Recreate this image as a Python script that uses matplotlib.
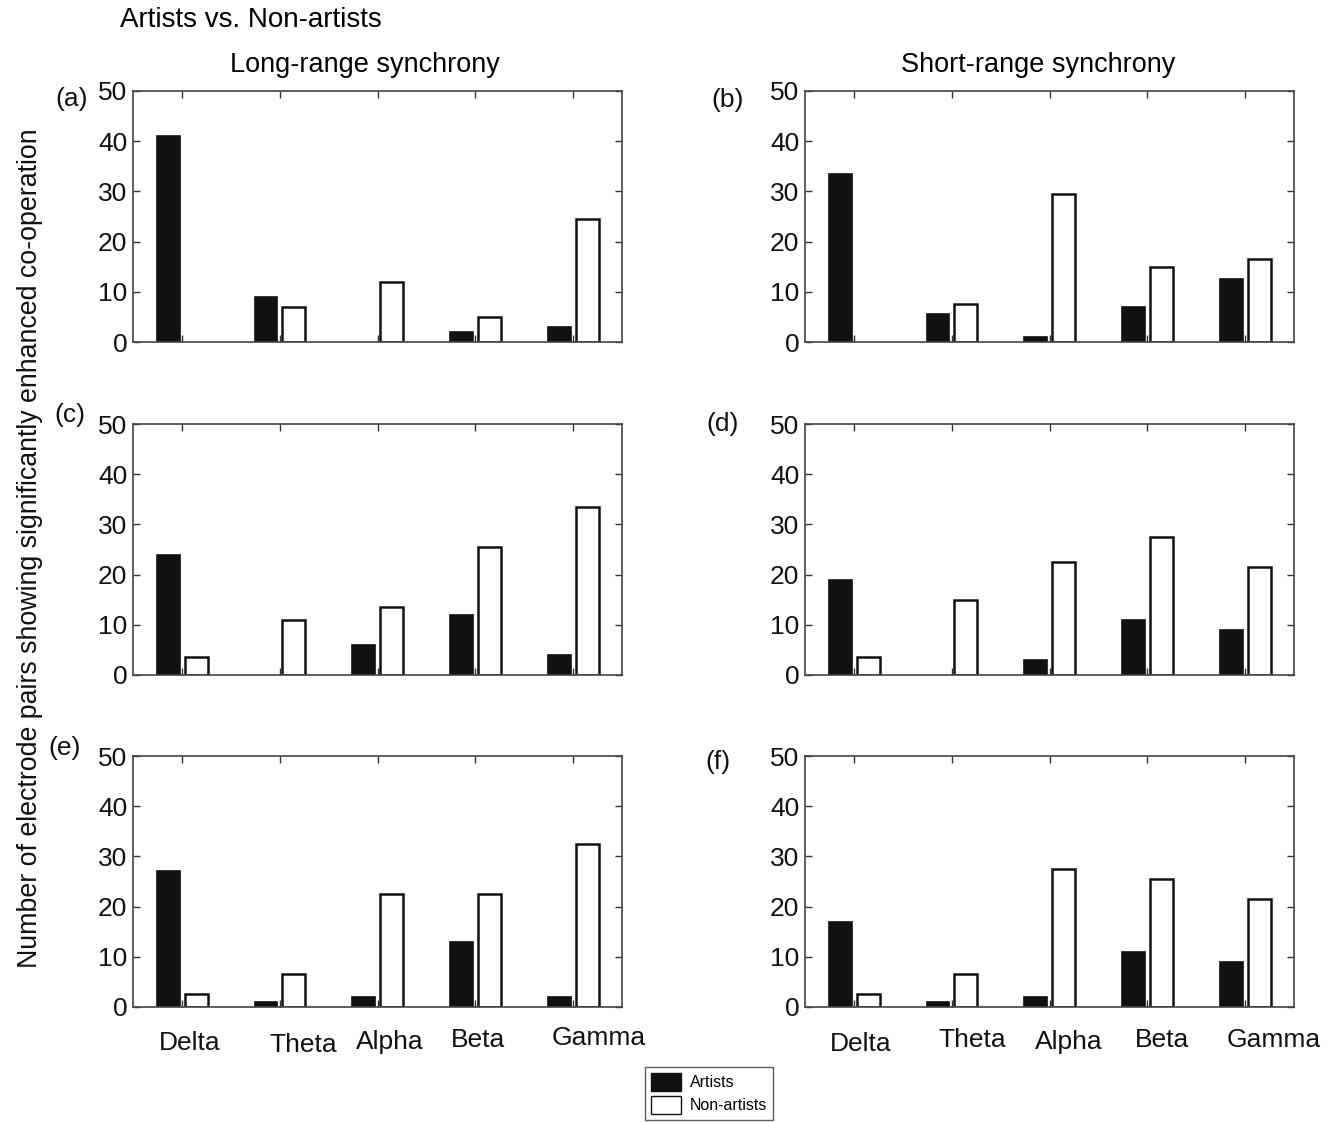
import numpy as np
import matplotlib
matplotlib.use('Agg')
import matplotlib.pyplot as plt
from matplotlib.patches import Patch

plt.rcParams['font.family'] = ['Liberation Sans', 'DejaVu Sans']

# Data
bands = ['Delta', 'Theta', 'Alpha', 'Beta', 'Gamma']
panel_labels = ['(a)', '(b)', '(c)', '(d)', '(e)', '(f)']

artists_a = [41, 9, 0, 2, 3]
nonartists_a = [0, 7, 12, 5, 24.5]
artists_b = [33.5, 5.5, 1, 7, 12.5]
nonartists_b = [0, 7.5, 29.5, 15, 16.5]
artists_c = [24, 0, 6, 12, 4]
nonartists_c = [3.5, 11, 13.5, 25.5, 33.5]
artists_d = [19, 0, 3, 11, 9]
nonartists_d = [3.5, 15, 22.5, 27.5, 21.5]
artists_e = [27, 1, 2, 13, 2]
nonartists_e = [2.5, 6.5, 22.5, 22.5, 32.5]
artists_f = [17, 1, 2, 11, 9]
nonartists_f = [2.5, 6.5, 27.5, 25.5, 21.5]

artists = [artists_a, artists_b, artists_c, artists_d, artists_e, artists_f]
nonartists = [nonartists_a, nonartists_b, nonartists_c, nonartists_d, nonartists_e, nonartists_f]

W, H = 1333, 1122
fig = plt.figure(figsize=(W / 100, H / 100), dpi=100)

col_left = [133, 805]
row_top = [91, 424, 756]
ax_w, ax_h = 489, 251
fs = 19

# where the band names sit under the bottom panels (data x, pixel y)
label_x = [[1.08, 2.24, 3.13, 4.03, 5.26], [1.07, 2.21, 3.20, 4.15, 5.29]]
label_y = [[1043, 1045, 1042, 1040, 1038], [1044, 1040, 1042, 1040, 1040]]
# panel letter positions (pixel centre)
letter_pos = [(72, 99), (728, 100), (70, 415), (723, 424), (65, 748), (718, 762)]

x = np.arange(1, len(bands) + 1)
bw = 0.235

for i in range(6):
    r, c = divmod(i, 2)
    ax = fig.add_axes([col_left[c] / W, 1 - (row_top[r] + ax_h) / H, ax_w / W, ax_h / H])
    b1 = ax.bar(x - 0.14, artists[i], bw, color='#111111', edgecolor='#111111', linewidth=1.2)
    b2 = ax.bar(x + 0.145, nonartists[i], bw, color='white', edgecolor='#111111', linewidth=1.8)
    # zero-height bars are not drawn in the original
    for p in list(b1) + list(b2):
        if p.get_height() == 0:
            p.set_visible(False)
    ax.set_xlim(0.5, 5.5)
    ax.set_ylim(0, 50)
    ax.set_yticks(range(0, 51, 10))
    ax.set_xticks(x)
    ax.set_xticklabels([])
    ax.tick_params(direction='in', top=True, right=True, length=5, width=1,
                   labelsize=fs, colors='#333333', labelcolor='#111111', pad=4)
    for s in ax.spines.values():
        s.set_color('#444444')
        s.set_linewidth(1.2)
    fig.text(letter_pos[i][0] / W, 1 - letter_pos[i][1] / H, panel_labels[i],
             fontsize=fs, ha='center', va='center', color='#111111')
    if r == 2:
        for k, name in enumerate(bands):
            px_y = label_y[c][k]
            fig.text((col_left[c] + (label_x[c][k] - 0.5) / 5 * ax_w) / W, 1 - px_y / H, name,
                     fontsize=fs, ha='center', va='center', color='#111111')

fig.text(120 / W, 1 - 20 / H, 'Artists vs. Non-artists', fontsize=20, ha='left', va='center')
fig.text(365 / W, 1 - 65 / H, 'Long-range synchrony', fontsize=19.5, ha='center', va='center')
fig.text(1038 / W, 1 - 65 / H, 'Short-range synchrony', fontsize=19.5, ha='center', va='center')
fig.text(30 / W, 1 - 548 / H,
         'Number of electrode pairs showing significantly enhanced co-operation',
         fontsize=19.3, rotation=90, ha='center', va='center', color='#111111')

handles = [Patch(facecolor='#111111', edgecolor='#111111'),
           Patch(facecolor='white', edgecolor='#111111')]
fig.legend(handles, ['Artists', 'Non-artists'], loc='upper center',
           bbox_to_anchor=(709 / W, 1 - 1067 / H), fontsize=11.5, frameon=True,
           fancybox=False, edgecolor='#333333', handlelength=1.9, handleheight=1.3,
           borderpad=0.4, labelspacing=0.35, handletextpad=0.5, borderaxespad=0)

fig.savefig('out.png', dpi=100)
